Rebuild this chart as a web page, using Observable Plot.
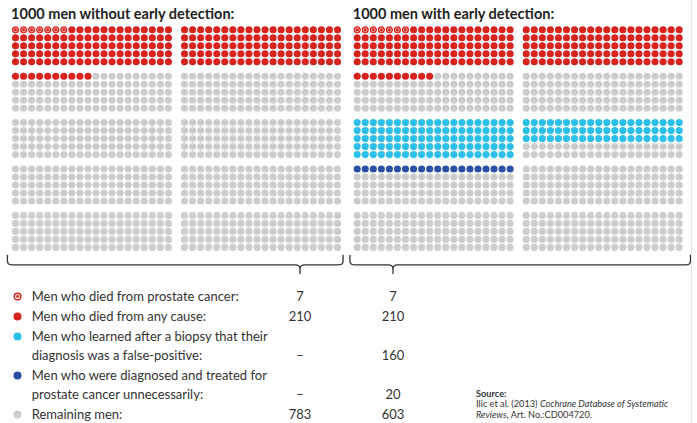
<!DOCTYPE html>
<html><head><meta charset="utf-8">
<script src="https://cdn.jsdelivr.net/npm/d3@7"></script>
<script src="https://cdn.jsdelivr.net/npm/@observablehq/plot@0.6"></script>
<style>
body{margin:0;background:#fff;font-family:Lato,"Open Sans",sans-serif;color:#333}
#wrap{position:relative;width:697px;height:423px;overflow:hidden}
#chart svg{display:block}
#legend{position:absolute;left:0;top:286.5px;width:697px}
.item{position:relative;margin-bottom:1.2px;font-size:13px;line-height:19px}
.item .sym{position:absolute;left:12.5px;top:5px}
.item .lab{margin-left:31.7px}
.item .num{position:absolute;bottom:0;width:40px;margin-left:-20px;text-align:center}
#source{position:absolute;left:476px;top:388.5px;font-size:9.2px;line-height:10.5px;color:#333}
#edge{position:absolute;left:691px;top:0;width:1px;height:423px;background:#e8e8e8}
</style></head>
<body><div id="wrap"><div id="chart"></div><div id="legend"></div>
<div id="source"><b>Source:</b><br>Ilic et al. (2013) <i>Cochrane Database of Systematic<br>Reviews</i>, Art. No.:CD004720.</div>
<div id="edge"></div></div>
<script>
// ---- data ----
const panelTitles = ["1000 men without early detection:", "1000 men with early detection:"];
const categories = [
  "Men who died from prostate cancer:",
  "Men who died from any cause:",
  "Men who learned after a biopsy that their\ndiagnosis was a false-positive:",
  "Men who were diagnosed and treated for\nprostate cancer unnecessarily:",
  "Remaining men:"
];
const colors = ["#d8221c", "#d8221c", "#2cbfe9", "#2a4ea3", "#cdcdcd"];
const labelsWithout = ["7", "210", "–", "–", "783"];
const labelsWith = ["7", "210", "160", "20", "603"];
const dotCountWithout = [7, 210, 0, 0];
const dotCountWith = [7, 210, 160, 20];
const dotStart = [0, 0, 400, 600]; // first position in the 1000-man grid

// ---- layout constants ----
const PANEL_OFFSET = 42.45;   // grid units between panels
const BLOCK_STEP_Y = 5.8;     // grid units between block rows
const valueColX = [300, 393]; // pixel centres of value columns

// ---- build dots ----
const dots = [];
[dotCountWithout, dotCountWith].forEach((counts, p) => {
  for (let n = 0; n < 1000; n++) {
    let k = 4;
    for (let c = 0; c < counts.length; c++) {
      if (n >= dotStart[c] && n < dotStart[c] + counts[c]) { k = c; break; }
    }
    const b = Math.floor(n / 100), i = n % 100;
    const br = Math.floor(b / 2), side = b % 2;
    const row = Math.floor(i / 20), col = i % 20;
    dots.push({p, k, cat: categories[k], gx: p * PANEL_OFFSET + side * 21 + col, gy: br * BLOCK_STEP_Y + row});
  }
});

function braces(index, scales) {
  const g = d3.create("svg:g").attr("fill", "none").attr("stroke", "#333").attr("stroke-width", 1.3);
  const ext = [[-7.5, 6], [-6.7, 11.7]];
  const yl = scales.y(4 * BLOCK_STEP_Y + 4);
  const yt = yl + 8, yh = yl + 18, ytip = yl + 27;
  [0, 1].forEach(p => {
    const x0 = scales.x(p * PANEL_OFFSET) + ext[p][0];
    const x1 = scales.x(p * PANEL_OFFSET + 40) + ext[p][1];
    const tx = valueColX[p];
    const path = d3.path();
    path.moveTo(x0, yt);
    path.bezierCurveTo(x0 - 0.5, yh - 1, x0, yh, x0 + 5, yh);
    path.lineTo(tx - 5, yh);
    path.quadraticCurveTo(tx, yh, tx, yh + 4);
    path.lineTo(tx, ytip);
    path.moveTo(tx, yh + 4);
    path.quadraticCurveTo(tx, yh, tx + 5, yh);
    path.lineTo(x1 - 5, yh);
    path.bezierCurveTo(x1, yh, x1 + 0.5, yh - 1, x1, yt);
    g.append("path").attr("d", path.toString());
  });
  return g.node();
}

const chart = Plot.plot({
  width: 697, height: 280, margin: 0,
  x: {domain: [0, 2 * PANEL_OFFSET - 2.45], range: [15, 678.7], axis: null},
  y: {domain: [0, 4 * BLOCK_STEP_Y + 4], range: [29.3, 246.9], axis: null},
  color: {type: "ordinal", domain: categories, range: colors},
  marks: [
    Plot.dot(dots, {x: "gx", y: "gy", r: 3.55, fill: "cat"}),
    Plot.dot(dots.filter(d => d.k === 0), {x: "gx", y: "gy", r: 1.9, stroke: "white", strokeOpacity: 0.85, strokeWidth: 0.7, fill: "none"}),
    Plot.text(panelTitles, {x: (d, i) => i * PANEL_OFFSET - 0.55, y: -1.35, text: d => d, textAnchor: "start", lineAnchor: "bottom",
      fontWeight: "bold", fontSize: 14.5, fill: "#222", fontFamily: "Lato, 'Open Sans', sans-serif"}),
    braces
  ]
});
document.getElementById("chart").append(chart);

// ---- legend ----
const legend = d3.select("#legend");
categories.forEach((c, k) => {
  const item = legend.append("div").attr("class", "item");
  const s = item.append("svg").attr("class", "sym").attr("width", 9).attr("height", 9);
  s.append("circle").attr("cx", 4.5).attr("cy", 4.5).attr("r", 4).attr("fill", colors[k]);
  if (k === 0) s.append("circle").attr("cx", 4.5).attr("cy", 4.5).attr("r", 2).attr("fill", "none").attr("stroke", "white").attr("stroke-width", 1.1);
  item.append("div").attr("class", "lab").html(c.split("\n").join("<br>"));
  [labelsWithout[k], labelsWith[k]].forEach((v, p) => {
    item.append("div").attr("class", "num").style("left", valueColX[p] + "px").text(v);
  });
});
</script></body></html>
